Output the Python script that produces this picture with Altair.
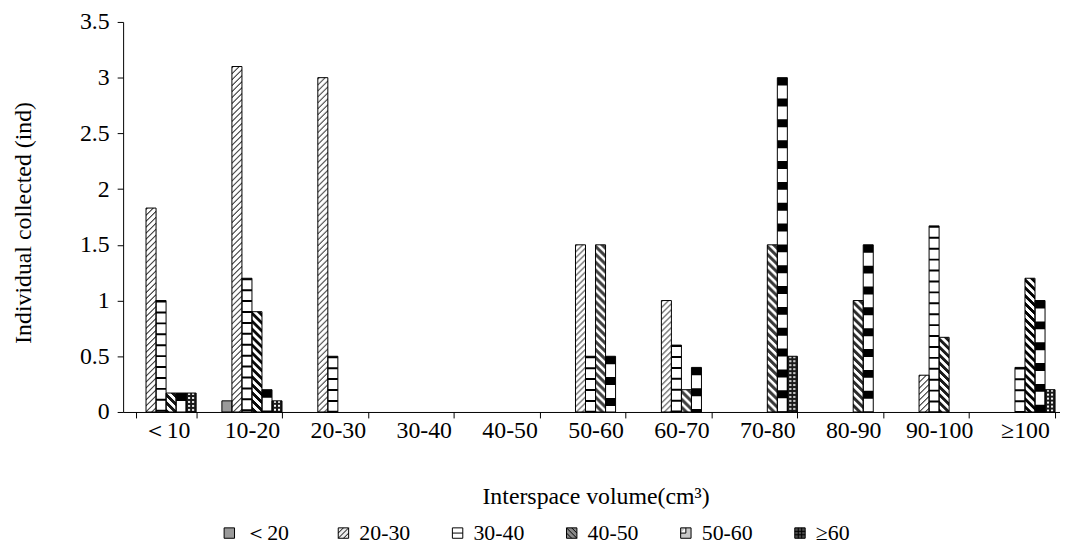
import altair as alt
import pandas as pd

# ---------------- data ----------------
categories = ["＜10", "10-20", "20-30", "30-40", "40-50", "50-60",
              "60-70", "70-80", "80-90", "90-100", "≥100"]
series_names = ["＜20", "20-30", "30-40", "40-50", "50-60", "≥60"]

v_lt20 = [0, 0.1, 0, 0, 0, 0, 0, 0, 0, 0, 0]
v_20_30 = [1.83, 3.1, 3.0, 0, 0, 1.5, 1.0, 0, 0, 0.33, 0]
v_30_40 = [1.0, 1.2, 0.5, 0, 0, 0.5, 0.6, 0, 0, 1.67, 0.4]
v_40_50 = [0.17, 0.9, 0, 0, 0, 1.5, 0.2, 1.5, 1.0, 0.67, 1.2]
v_50_60 = [0.17, 0.2, 0, 0, 0, 0.5, 0.4, 3.0, 1.5, 0, 1.0]
v_ge60 = [0.17, 0.1, 0, 0, 0, 0, 0, 0.5, 0, 0, 0.2]

y_ticks = [0, 0.5, 1, 1.5, 2, 2.5, 3, 3.5]

all_values = [v_lt20, v_20_30, v_30_40, v_40_50, v_50_60, v_ge60]
rows = []
for sid, (s, vals) in enumerate(zip(series_names, all_values)):
    for c, v in zip(categories, vals):
        rows.append({"cat": c, "series": s, "sid": sid, "v": v})
df = pd.DataFrame(rows)

FONT = "Liberation Serif"
FS = 24
LEG_FS = 22
N_COL = 10  # 1px sub-columns per bar used to draw hatch patterns

# ---------------- shared encodings ----------------
x_axis = alt.Axis(title="Interspace volume(cm³)", tickBand="extent", tickSize=6,
                  labelPadding=1, labelAngle=0, titleY=92, titleBaseline="alphabetic")
y_axis = alt.Axis(title="Individual collected (ind)", values=y_ticks, format="~g",
                  tickSize=6, labelPadding=8, titleX=-100, titleY=202,
                  titleBaseline="middle", titleAlign="center")

X = alt.X("cat:N", sort=categories,
          scale=alt.Scale(domain=categories, paddingInner=0.3, paddingOuter=0.15,
                          range=[0, 952]),
          axis=x_axis)
Y = alt.Y("v:Q", scale=alt.Scale(domain=[0, 3.5], nice=False), axis=y_axis)

base_chart = alt.Chart(df).transform_filter("datum.v > 0")

fill_cond = {
    "condition": [
        {"test": "datum.sid == 0", "value": "#9a9a9a"},
        {"test": "datum.sid == 5", "value": "#1a1a1a"},
    ],
    "value": "white",
}
series_offset = alt.XOffset("series:N",
                            scale=alt.Scale(domain=series_names, paddingInner=0, paddingOuter=0))
slot_domain = list(range(len(series_names) * N_COL))
slot_offset = alt.XOffset("slot:O",
                          scale=alt.Scale(domain=slot_domain, paddingInner=0, paddingOuter=0))

bars = base_chart.mark_bar(strokeWidth=0).encode(
    x=X, y=Y, xOffset=series_offset, fill=fill_cond
)
outline = base_chart.mark_bar(fill="transparent", stroke="black", strokeWidth=1).encode(
    x=X, y=Y, xOffset=series_offset
)


def hatch(sid, k, width, color, dash, offset):
    ch = alt.Chart(df).transform_filter(f"datum.v > 0 && datum.sid == {sid}")
    if k is None:
        off = series_offset
    else:
        ch = ch.transform_calculate(slot=f"datum.sid * {N_COL} + {k}")
        off = slot_offset
    return ch.mark_rule(stroke=color, strokeWidth=width, strokeDash=dash,
                        strokeDashOffset=offset, strokeCap="butt").encode(
        x=X, y=Y, y2=alt.Y2Datum(0), xOffset=off)


layers = [bars]
# 20-30: thin "/" hatch
for k in range(N_COL):
    layers.append(hatch(1, k, 1, "#444444", [1.6, 4.4], k % 6))
# 30-40: horizontal lines
layers.append(hatch(2, None, 10, "black", [2, 9], 0))
# 40-50: thick "\" hatch
for k in range(N_COL):
    layers.append(hatch(3, k, 1, "black", [4, 4], (8 - k) % 8))
# 50-60: black blocks
layers.append(hatch(4, None, 10, "black", [8, 13], 0))
# >=60: white dots on dark
for k in (2, 3, 6, 7):
    layers.append(hatch(5, k, 1, "white", [2, 2], 0))
layers.append(outline)

# legend layer (draws nothing, only the legend)
legend_fills = ["#9a9a9a", "#ececec", "white", "#8a8a8a", "#c8c8c8", "#4a4a4a"]
sq = "M-1,-1H1V1H-1Z"
legend_paths = [
    sq,
    sq + " M-1,0L0,-1 M-1,1L1,-1 M0,1L1,0",
    sq + " M-1,0H1",
    sq + " M-1,-1L1,1 M-1,0L0,1 M0,-1L1,0",
    sq + " M-1,0H0V-1",
    sq + " M-1,-0.33H1 M-1,0.33H1 M-0.33,-1V1 M0.33,-1V1",
]
leg = alt.Legend(title=None, orient="none", legendX=96, legendY=504,
                 direction="horizontal", columns=6, symbolSize=110,
                 symbolStrokeColor="black", symbolStrokeWidth=1,
                 labelFontSize=LEG_FS, labelFont=FONT, labelColor="black",
                 labelOffset=5, columnPadding=36, gridAlign="all", padding=0)
legend_layer = (
    alt.Chart(df)
    .transform_filter("false")
    .mark_point(filled=True, size=110, strokeWidth=1, opacity=1)
    .encode(
        fill=alt.Fill("series:N", scale=alt.Scale(domain=series_names, range=legend_fills),
                      legend=leg),
        shape=alt.Shape("series:N", scale=alt.Scale(domain=series_names, range=legend_paths),
                        legend=leg),
        stroke=alt.Stroke("series:N", scale=alt.Scale(domain=series_names,
                                                      range=["black"] * 6),
                          legend=leg),
    )
)
layers.append(legend_layer)

chart = (
    alt.layer(*layers)
    .resolve_scale(xOffset="independent")
    .properties(
        width=944, height=393,
        autosize=alt.AutoSizeParams(type="none"),
        padding={"left": 116, "top": 12, "right": 0, "bottom": 136},
        background="white",
    )
    .configure_view(stroke=None)
    .configure_axis(
        labelFont=FONT, titleFont=FONT, labelColor="black", titleColor="black",
        domainColor="black", tickColor="black", labelFontSize=FS, titleFontSize=FS,
        titleFontWeight="normal", grid=False, domainWidth=1, tickWidth=1,
    )
)

chart.save("out.html", embed_options={"renderer": "svg", "actions": False})
